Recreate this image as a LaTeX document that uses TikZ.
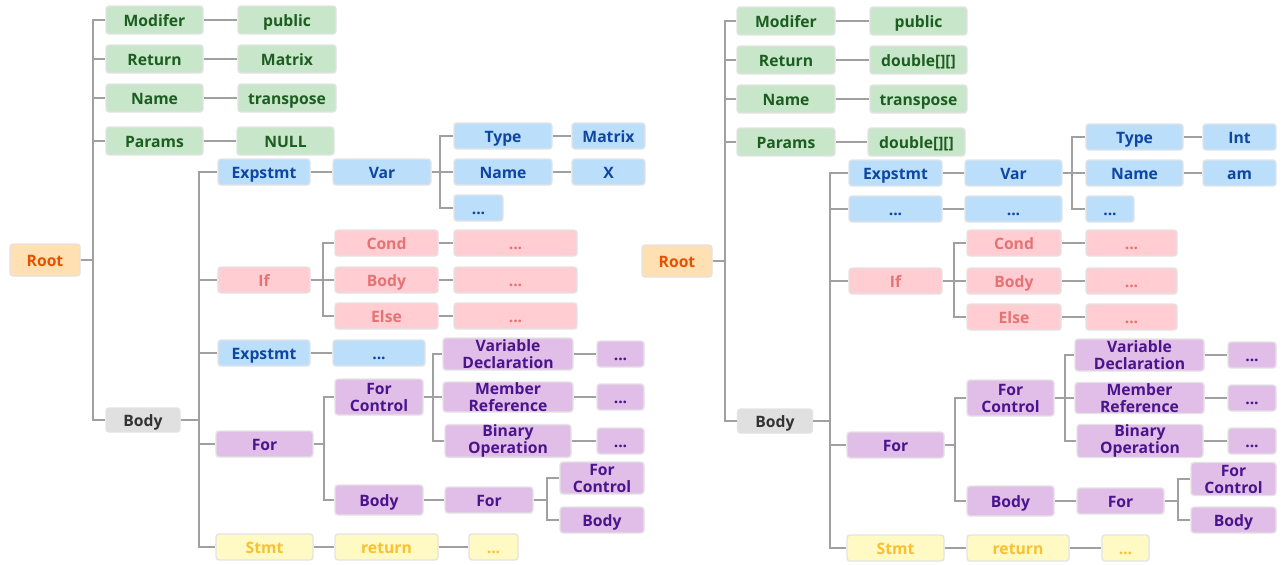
\documentclass[tikz,border=0pt]{standalone}
\usepackage{fontspec}
\setmainfont{Open Sans}
\usepackage{tikz}
\usetikzlibrary{positioning}

\definecolor{rootfill}{HTML}{FFE0B2}\definecolor{roottext}{HTML}{E65100}
\definecolor{grayfill}{HTML}{E0E0E0}\definecolor{graytext}{HTML}{333333}
\definecolor{modfill}{HTML}{C8E6C9}\definecolor{modtext}{HTML}{1B5E20}
\definecolor{expfill}{HTML}{BBDEFB}\definecolor{exptext}{HTML}{0D47A1}
\definecolor{iffill}{HTML}{FFCDD2}\definecolor{iftext}{HTML}{E57373}
\definecolor{forfill}{HTML}{E1BEE7}\definecolor{fortext}{HTML}{4A148C}
\definecolor{retfill}{HTML}{FFF9C4}\definecolor{rettext}{HTML}{FBC02D}
\definecolor{linegray}{HTML}{A0A0A0}

\tikzset{
  box/.style={rounded corners=3pt, draw=black!11, line width=1.4pt, minimum height=26pt,
    inner sep=0pt, align=center, font=\fontsize{15.7}{17}\selectfont\bfseries,
    text height=14pt, text depth=1.3pt},
  twoline/.style={text height={}, text depth={}},
  rootbox/.style={box, fill=rootfill, text=roottext, minimum height=32pt},
  bodybox/.style={box, fill=grayfill, text=graytext, minimum height=24pt},
  modbox/.style={box, fill=modfill, text=modtext, minimum height=28pt},
  expbox/.style={box, fill=expfill, text=exptext},
  ifbox/.style={box, fill=iffill, text=iftext},
  forbox/.style={box, fill=forfill, text=fortext},
  retbox/.style={box, fill=retfill, text=rettext},
  wd/.style={minimum width=#1pt},
  ht/.style={minimum height=#1pt},
  link/.style={draw=linegray, line width=1.8pt},
}

\begin{document}
\begin{tikzpicture}[x=1pt,y=-1pt]
  \useasboundingbox (0,0) rectangle (1283,565);

  %% left tree
  \node[rootbox,wd=70] (lroot) at (45,260) {Root};
  \node[modbox,wd=97] (lmod) at (154.5,20) {Modifer};
  \node[modbox,wd=97] (lret) at (154.5,59) {Return};
  \node[modbox,wd=97] (lname) at (154.5,98) {Name};
  \node[modbox,wd=97] (lpar) at (154.5,141) {Params};
  \node[modbox,wd=98] (lpub) at (287,20) {public};
  \node[modbox,wd=98] (lmat) at (287,59) {Matrix};
  \node[modbox,wd=98] (ltr) at (287,98) {transpose};
  \node[modbox,wd=97] (lnull) at (285.5,141) {NULL};
  \node[bodybox,wd=74] (lbody) at (143,420) {Body};

  \node[expbox,wd=92] (lexp) at (264,172) {Expstmt};
  \node[ifbox,wd=92] (lif) at (264,280) {If};
  \node[expbox,wd=92] (lexpb) at (264,353) {Expstmt};
  \node[forbox,wd=97] (lfor) at (264.5,444) {For};
  \node[retbox,wd=97] (lstmt) at (264.5,547) {Stmt};

  \node[expbox,wd=98] (lvar) at (382,172) {Var};
  \node[expbox,wd=98] (ltype) at (503,136) {Type};
  \node[expbox,wd=98] (lvname) at (503,172) {Name};
  \node[expbox,wd=49] (lvdots) at (478.5,208) {...};
  \node[expbox,wd=73] (ltypev) at (608.5,136) {Matrix};
  \node[expbox,wd=73] (lnamev) at (608.5,172) {X};
  \node[expbox,wd=92] (lexpv) at (379,353) {...};

  \node[ifbox,wd=103] (lcond) at (386.5,243) {Cond};
  \node[ifbox,wd=103] (libody) at (386.5,280) {Body};
  \node[ifbox,wd=103] (lelse) at (386.5,316) {Else};
  \node[ifbox,wd=123] (lcondv) at (515.5,243) {...};
  \node[ifbox,wd=123] (libodyv) at (515.5,280) {...};
  \node[ifbox,wd=123] (lelsev) at (515.5,316) {...};

  \node[forbox,twoline,wd=88,ht=36] (lfc) at (379,397) {For\\Control};
  \node[forbox,wd=88,ht=30] (lfb) at (379,500) {Body};
  \node[forbox,twoline,wd=130,ht=32] (lvd) at (508,354) {Variable\\Declaration};
  \node[forbox,twoline,wd=130,ht=30] (lmr) at (508,397) {Member\\Reference};
  \node[forbox,twoline,wd=126,ht=32] (lbo) at (508,441) {Binary\\Operation};
  \node[forbox,wd=47] (lvdv) at (620.5,354) {...};
  \node[forbox,wd=47] (lmrv) at (620.5,397) {...};
  \node[forbox,wd=47] (lbov) at (620.5,441) {...};
  \node[forbox,wd=88] (lfor2) at (489,500) {For};
  \node[forbox,twoline,wd=84,ht=32] (lfc2) at (602,478) {For\\Control};
  \node[forbox,wd=84] (lfb2) at (602,520) {Body};

  \node[retbox,wd=103] (lreturn) at (386.5,547) {return};
  \node[retbox,wd=49] (lretv) at (493.5,547) {...};

  %% right tree
  \node[rootbox,wd=70] (rroot) at (677,261) {Root};
  \node[modbox,wd=98] (rmod) at (786,21) {Modifer};
  \node[modbox,wd=98] (rret) at (786,60) {Return};
  \node[modbox,wd=98] (rname) at (786,99) {Name};
  \node[modbox,wd=98] (rpar) at (786,142) {Params};
  \node[modbox,wd=97] (rpub) at (918.5,21) {public};
  \node[modbox,wd=97] (rdbl) at (918.5,60) {double[][]};
  \node[modbox,wd=97] (rtr) at (918.5,99) {transpose};
  \node[modbox,wd=97] (rpd) at (916.5,142) {double[][]};
  \node[bodybox,wd=75] (rbody) at (775,421) {Body};

  \node[expbox,wd=93] (rexp) at (895.5,173) {Expstmt};
  \node[expbox,wd=93] (rexpb) at (895.5,209) {...};
  \node[ifbox,wd=93] (rif) at (895.5,281) {If};
  \node[forbox,wd=97] (rfor) at (895.5,445) {For};
  \node[retbox,wd=97] (rstmt) at (895.5,548) {Stmt};

  \node[expbox,wd=97] (rvar) at (1013.5,173) {Var};
  \node[expbox,wd=97] (rexpv) at (1013.5,209) {...};
  \node[expbox,wd=97] (rtype) at (1134.5,137) {Type};
  \node[expbox,wd=97] (rvname) at (1134.5,173) {Name};
  \node[expbox,wd=48] (rvdots) at (1110,209) {...};
  \node[expbox,wd=73] (rtypev) at (1239.5,137) {Int};
  \node[expbox,wd=73] (rnamev) at (1239.5,173) {am};

  \node[ifbox,wd=94] (rcond) at (1014,243) {Cond};
  \node[ifbox,wd=94] (ribody) at (1014,281) {Body};
  \node[ifbox,wd=94] (relse) at (1014,317) {Else};
  \node[ifbox,wd=91] (rcondv) at (1131.5,243) {...};
  \node[ifbox,wd=91] (ribodyv) at (1131.5,281) {...};
  \node[ifbox,wd=91] (relsev) at (1131.5,317) {...};

  \node[forbox,twoline,wd=87,ht=36] (rfc) at (1010.5,398) {For\\Control};
  \node[forbox,wd=87,ht=30] (rfb) at (1010.5,501) {Body};
  \node[forbox,twoline,wd=129,ht=32] (rvd) at (1139.5,355) {Variable\\Declaration};
  \node[forbox,twoline,wd=129,ht=31] (rmr) at (1139.5,398) {Member\\Reference};
  \node[forbox,twoline,wd=126,ht=33] (rbo) at (1140,441) {Binary\\Operation};
  \node[forbox,wd=48] (rvdv) at (1252,355) {...};
  \node[forbox,wd=48] (rmrv) at (1252,398) {...};
  \node[forbox,wd=48] (rbov) at (1252,441) {...};
  \node[forbox,wd=87] (rfor2) at (1120.5,501) {For};
  \node[forbox,twoline,wd=85,ht=33] (rfc2) at (1233.5,479) {For\\Control};
  \node[forbox,wd=85] (rfb2) at (1233.5,520) {Body};

  \node[retbox,wd=102] (rreturn) at (1018,548) {return};
  \node[retbox,wd=47] (rretv) at (1125.5,548) {...};

  %% trunks (x of the vertical bars)
  \coordinate (lt0) at (93,0);   \coordinate (rt0) at (725,0);
  \coordinate (lt1) at (199,0);  \coordinate (rt1) at (830,0);
  \coordinate (lt2) at (440,0);  \coordinate (rt2) at (1072,0);
  \coordinate (lt3) at (323,0);  \coordinate (rt3) at (954,0);
  \coordinate (lt4) at (324,0);  \coordinate (rt4) at (955,0);
  \coordinate (lt5) at (433,0);  \coordinate (rt5) at (1065,0);
  \coordinate (lt6) at (547,0);  \coordinate (rt6) at (1178,0);

  % elbow connectors: parent -> trunk -> child
  \foreach \p/\t/\cs in {lroot/lt0/{lmod,lret,lname,lpar,lbody},
                         lbody/lt1/{lexp,lif,lexpb,lfor,lstmt},
                         lvar/lt2/{ltype,lvname,lvdots},
                         lif/lt3/{lcond,libody,lelse},
                         lfor/lt4/{lfc,lfb},
                         lfc/lt5/{lvd,lmr,lbo},
                         lfor2/lt6/{lfc2,lfb2},
                         rroot/rt0/{rmod,rret,rname,rpar,rbody},
                         rbody/rt1/{rexp,rexpb,rif,rfor,rstmt},
                         rvar/rt2/{rtype,rvname,rvdots},
                         rif/rt3/{rcond,ribody,relse},
                         rfor/rt4/{rfc,rfb},
                         rfc/rt5/{rvd,rmr,rbo},
                         rfor2/rt6/{rfc2,rfb2}}{
    \foreach \c in \cs
      \draw[link] (\p.east) -- (\p.east -| \t) |- (\c.west);
  }

  % straight connectors
  \foreach \a/\b in {lmod/lpub,lret/lmat,lname/ltr,lpar/lnull,lexp/lvar,ltype/ltypev,
                     lvname/lnamev,lexpb/lexpv,lcond/lcondv,libody/libodyv,lelse/lelsev,
                     lvd/lvdv,lmr/lmrv,lbo/lbov,lfb/lfor2,lstmt/lreturn,lreturn/lretv,
                     rmod/rpub,rret/rdbl,rname/rtr,rpar/rpd,rexp/rvar,rexpb/rexpv,
                     rtype/rtypev,rvname/rnamev,rcond/rcondv,ribody/ribodyv,relse/relsev,
                     rvd/rvdv,rmr/rmrv,rbo/rbov,rfb/rfor2,rstmt/rreturn,rreturn/rretv}
    \draw[link] (\a) -- (\b);
\end{tikzpicture}
\end{document}
